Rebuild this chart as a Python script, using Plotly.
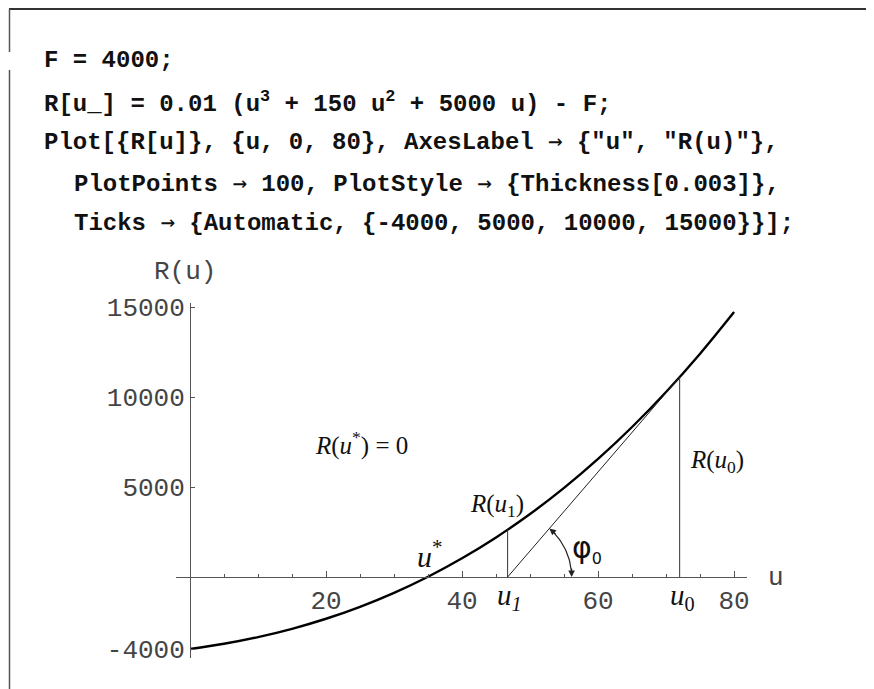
import math
import plotly.graph_objects as go

# ---- data ----
u_vals = [0, 5, 10, 15, 20, 25, 30, 35, 40, 45, 50, 55, 60, 65, 70, 75, 80]
R_vals = [-4000, -3711, -3340, -2879, -2320, -1656, -880, 16, 1040, 2199,
          3500, 4951, 6560, 8334, 10280, 12406, 14720]
x_tickvals = [20, 40, 60, 80]
x_ticktext = ["20", "40", "60", "80"]
y_tickvals = [-4000, 5000, 10000, 15000]
y_ticktext = ["-4000", "5000", "10000", "15000"]
u_star = 34.9
u1 = 46.7
R_u1 = 2625
u0 = 72
R_u0 = 11108

ARW = '<span style="font-family:DejaVu Sans Mono;font-weight:normal">\u2192</span>'
code_lines = [
    "F = 4000;",
    "R[u_] = 0.01 (u<sup>3</sup> + 150 u<sup>2</sup> + 5000 u) - F;",
    "Plot[{R[u]}, {u, 0, 80}, AxesLabel " + ARW + " {\"u\", \"R(u)\"},",
    "PlotPoints " + ARW + " 100, PlotStyle " + ARW + " {Thickness[0.003]},",
    "Ticks " + ARW + " {Automatic, {-4000, 5000, 10000, 15000}}];",
]

# ---- layout geometry (page pixels; the page body adds an 8px offset) ----
OFF = 8
W, H = 874 - OFF, 689 - OFF
L, T = 176 - OFF, 303 - OFF
R_ = W - (747 - OFF)
B = H - (658 - OFF)
PW, PH = W - L - R_, H - T - B
xlo, xhi = -2.06, 81.9
ylo, yhi = -4500, 15222
xpx = PW / (xhi - xlo)
ypx = PH / (yhi - ylo)


def px(x):
    return (x - OFF - L) / PW


def py(y):
    return (H - B - (y - OFF)) / PH


ink = "#111111"
axc = "#555555"
mono = "Liberation Mono"
serif = "Liberation Serif"

fig = go.Figure()

# main curve
fig.add_trace(go.Scatter(x=u_vals, y=R_vals, mode="lines", line_shape="spline",
                         line=dict(color="black", width=2.4), hoverinfo="skip"))
# vertical lines and tangent
fig.add_trace(go.Scatter(x=[u1, u1], y=[0, R_u1], mode="lines",
                         line=dict(color="#333", width=1), hoverinfo="skip"))
fig.add_trace(go.Scatter(x=[u0, u0], y=[0, R_u0], mode="lines",
                         line=dict(color="#333", width=1), hoverinfo="skip"))
fig.add_trace(go.Scatter(x=[u1, u0], y=[0, R_u0], mode="lines",
                         line=dict(color="#222", width=1), hoverinfo="skip"))

# angle arc around u1 (circular in pixels)
r_px = 64
th1 = math.atan2(R_u0 * ypx, (u0 - u1) * xpx)
n = 30
a0, a1 = 0.10, th1 - 0.10
arc_x = [u1 + r_px * math.cos(a0 + (a1 - a0) * i / n) / xpx for i in range(n + 1)]
arc_y = [r_px * math.sin(a0 + (a1 - a0) * i / n) / ypx for i in range(n + 1)]
fig.add_trace(go.Scatter(x=arc_x, y=arc_y, mode="lines",
                         line=dict(color="#222", width=1.2), hoverinfo="skip"))

anns = []
for ang, end in ((0.0, "low"), (th1, "high")):
    ex = u1 + r_px * math.cos(ang) / xpx
    ey = r_px * math.sin(ang) / ypx
    if end == "low":
        dx, dy = 0.0, 1.0
    else:
        dx, dy = -math.sin(th1), -math.cos(th1)
    anns.append(dict(x=ex, y=ey, xref="x", yref="y", text="", showarrow=True,
                     ax=-dx * 10, ay=-dy * 10, arrowhead=2, arrowsize=1.1,
                     arrowwidth=1.2, arrowcolor="#222", standoff=0))

# code lines
code_pos = [(42, 60), (42, 102), (42, 142), (72, 183), (72, 222)]
for txt, (cx, cy) in zip(code_lines, code_pos):
    anns.append(dict(x=px(cx), y=py(cy), xref="paper", yref="paper", text="<b>" + txt + "</b>",
                     showarrow=False, xanchor="left", yanchor="middle",
                     font=dict(family=mono, size=24, color=ink)))

# axis labels
anns.append(dict(x=px(185), y=py(272), xref="paper", yref="paper", text="R(u)",
                 showarrow=False, xanchor="center", yanchor="middle",
                 font=dict(family=mono, size=26, color="#444")))
anns.append(dict(x=px(776), y=py(578), xref="paper", yref="paper", text="u",
                 showarrow=False, xanchor="center", yanchor="middle",
                 font=dict(family=mono, size=26, color="#444")))


def ital(x, y, text, size=20, family=serif):
    anns.append(dict(x=px(x), y=py(y), xref="paper", yref="paper", text=text,
                     showarrow=False, xanchor="center", yanchor="middle",
                     font=dict(family=family, size=size, color=ink)))


ital(361, 443, "<i>R</i>(<i>u</i><sup>*</sup>) = 0", 25)
ital(497, 505, "<i>R</i>(<i>u</i><sub>1</sub>)", 25)
ital(717, 461, "<i>R</i>(<i>u</i><sub>0</sub>)", 25)
ital(430, 554, "<i>u</i><sup>*</sup>", 30)
ital(509, 597, "<i>u<sub>1</sub></i>", 29)
ital(682, 597, "<i>u</i><sub>0</sub>", 29)
ital(587, 549, "\u03c6<sub><span style=\"font-size:16px\">0</span></sub>", 30, "DejaVu Sans")

# frame lines around the notebook cell
shapes = [
    dict(type="line", xref="paper", yref="paper", x0=px(9), x1=px(874), y0=py(9), y1=py(9),
         line=dict(color="#333", width=2)),
    dict(type="line", xref="paper", yref="paper", x0=px(9.5), x1=px(9.5), y0=py(9), y1=py(52),
         line=dict(color="#555", width=1.5)),
    dict(type="line", xref="paper", yref="paper", x0=px(9.5), x1=px(9.5), y0=py(70), y1=py(689),
         line=dict(color="#555", width=1.5)),
]

tickfont = dict(family=mono, size=26, color="#444")
fig.update_layout(
    width=W, height=H,
    margin=dict(l=L, r=R_, t=T, b=B, pad=0),
    paper_bgcolor="white", plot_bgcolor="white",
    showlegend=False,
    annotations=anns, shapes=shapes,
    xaxis=dict(range=[xlo, xhi], showgrid=False, zeroline=False,
               showline=True, linecolor=axc, linewidth=1,
               anchor="free", position=(0 - ylo) / (yhi - ylo),
               tickmode="array", tickvals=x_tickvals, ticktext=x_ticktext,
               ticks="inside", ticklen=6, tickcolor=axc, tickfont=tickfont,
               minor=dict(dtick=5, tick0=0, ticks="inside", ticklen=3, tickcolor=axc)),
    yaxis=dict(range=[ylo, yhi], showgrid=False, zeroline=False,
               showline=True, linecolor=axc, linewidth=1,
               anchor="free", position=(0 - xlo) / (xhi - xlo),
               tickmode="array", tickvals=y_tickvals, ticktext=y_ticktext,
               ticks="inside", ticklen=4, tickcolor=axc, tickfont=tickfont),
)

fig.write_html("out.html")
